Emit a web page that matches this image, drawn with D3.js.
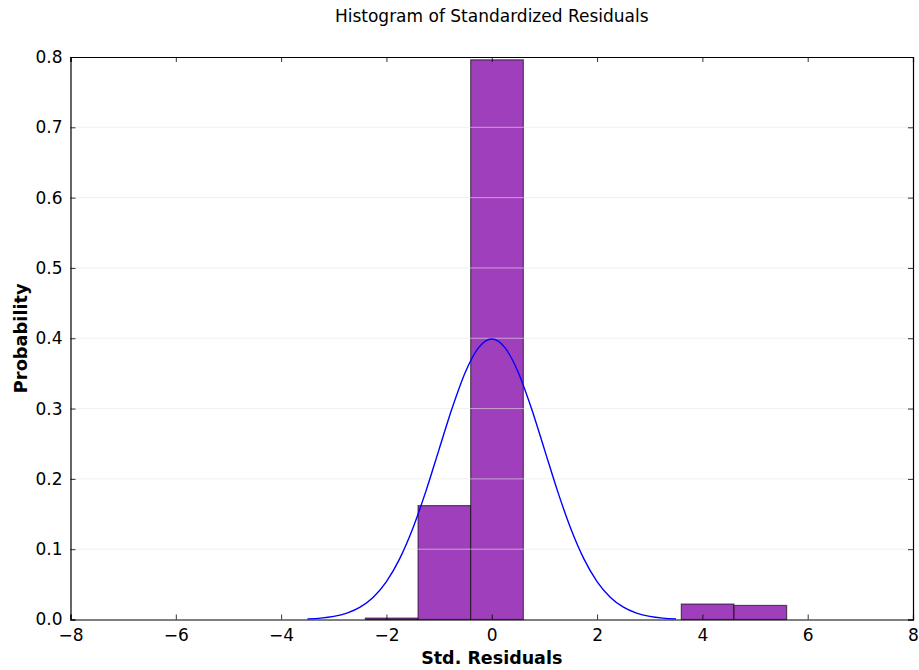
<!DOCTYPE html>
<html>
<head>
<meta charset="utf-8">
<script src="https://cdn.jsdelivr.net/npm/d3@7"></script>
<style>
  body { margin: 0; background: #fff; }
  svg text { font-family: "DejaVu Sans", sans-serif; }
</style>
</head>
<body>
<div id="chart"></div>
<script>
// histogram bins (left edge, width 1) and density
const binEdges = [-7.4, -6.4, -5.4, -4.4, -3.4, -2.4, -1.4, -0.4, 0.6, 1.6, 2.6, 3.6, 4.6, 5.6, 6.6, 7.6];
const binValues = [0, 0, 0, 0, 0, 0.002, 0.162, 0.796, 0, 0, 0, 0.022, 0.020, 0, 0];

// normal curve points
const curveX = [-3.5, -3.25, -3, -2.75, -2.5, -2.25, -2, -1.75, -1.5, -1.25, -1, -0.75, -0.5, -0.25, 0,
                0.25, 0.5, 0.75, 1, 1.25, 1.5, 1.75, 2, 2.25, 2.5, 2.75, 3, 3.25, 3.5];
const curveY = [0.0009, 0.002, 0.0044, 0.0091, 0.0175, 0.0317, 0.054, 0.0863, 0.1295, 0.1826, 0.242, 0.3011, 0.3521, 0.3867, 0.3989,
                0.3867, 0.3521, 0.3011, 0.242, 0.1826, 0.1295, 0.0863, 0.054, 0.0317, 0.0175, 0.0091, 0.0044, 0.002, 0.0009];

const xTicks = [-8, -6, -4, -2, 0, 2, 4, 6, 8];
const yTicks = [0, 0.1, 0.2, 0.3, 0.4, 0.5, 0.6, 0.7, 0.8];

const W = 919, H = 670;
const margin = {top: 57, right: 6, bottom: 50.5, left: 70.5};
const width = W - margin.left - margin.right;
const height = H - margin.top - margin.bottom;

const svg = d3.select("#chart").append("svg")
    .attr("width", W)
    .attr("height", H);

const g = svg.append("g")
    .attr("transform", `translate(${margin.left},${margin.top})`);

const x = d3.scaleLinear().domain([-8, 8]).range([0, width]);
const y = d3.scaleLinear().domain([0, 0.8]).range([height, 0]);

// bars
const bins = binValues.map((v, i) => ({x0: binEdges[i], x1: binEdges[i + 1], v: v}));
g.selectAll("rect.bar")
    .data(bins)
    .enter()
    .append("rect")
    .attr("class", "bar")
    .attr("x", d => x(d.x0))
    .attr("y", d => y(d.v))
    .attr("width", d => x(d.x1) - x(d.x0))
    .attr("height", d => y(0) - y(d.v))
    .attr("fill", "#a03fbb")
    .attr("stroke", "#000")
    .attr("stroke-opacity", 0.6)
    .attr("stroke-width", 1.2);

// faint horizontal grid, drawn over the bars
g.selectAll("line.grid")
    .data(yTicks.slice(1, -1))
    .enter()
    .append("line")
    .attr("x1", 0)
    .attr("x2", width)
    .attr("y1", d => y(d))
    .attr("y2", d => y(d))
    .attr("stroke", "#e6e6e6")
    .attr("stroke-opacity", 0.6)
    .attr("stroke-width", 1);

// normal curve
const pts = curveX.map((v, i) => [v, curveY[i]]);
g.append("path")
    .datum(pts)
    .attr("fill", "none")
    .attr("stroke", "#0000ff")
    .attr("stroke-width", 1.4)
    .attr("d", d3.line().x(d => x(d[0])).y(d => y(d[1])).curve(d3.curveMonotoneX));

// axes, ticks pointing inward on all four sides
const fmtY = d3.format(".1f");
const fmtX = d => (d < 0 ? "\u2212" + Math.abs(d) : d);

g.append("g")
    .attr("transform", `translate(0,${height})`)
    .call(d3.axisBottom(x).tickValues(xTicks).tickSize(-5).tickPadding(9).tickFormat(fmtX));
g.append("g")
    .call(d3.axisTop(x).tickValues(xTicks).tickSize(-5).tickFormat(""));
g.append("g")
    .call(d3.axisLeft(y).tickValues(yTicks).tickSize(-5).tickPadding(8).tickFormat(fmtY));
g.append("g")
    .attr("transform", `translate(${width},0)`)
    .call(d3.axisRight(y).tickValues(yTicks).tickSize(-5).tickFormat(""));

g.selectAll(".domain").attr("stroke", "#000").attr("stroke-width", 1.2);
g.selectAll(".tick line").attr("stroke", "#000").attr("stroke-width", 0.8);
g.selectAll(".tick text")
    .attr("fill", "#000")
    .style("font-family", "DejaVu Sans, sans-serif")
    .style("font-size", "17px");

// title and axis labels
svg.append("text")
    .attr("x", margin.left + width / 2)
    .attr("y", 22)
    .attr("text-anchor", "middle")
    .style("font-size", "17px")
    .text("Histogram of Standardized Residuals");

svg.append("text")
    .attr("x", margin.left + width / 2)
    .attr("y", 664)
    .attr("text-anchor", "middle")
    .style("font-size", "17.5px")
    .style("font-weight", "bold")
    .text("Std. Residuals");

svg.append("text")
    .attr("transform", `translate(27,${margin.top + height / 2}) rotate(-90)`)
    .attr("text-anchor", "middle")
    .style("font-size", "17.8px")
    .style("font-weight", "bold")
    .text("Probability");
</script>
</body>
</html>
